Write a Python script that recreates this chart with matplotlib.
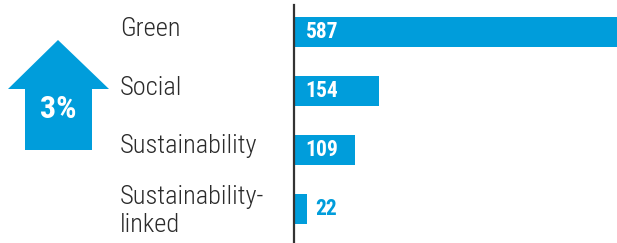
"""Labelled bond issuance by type, horizontal bar chart."""

import matplotlib

matplotlib.use("Agg")
import matplotlib.pyplot as plt
from matplotlib import font_manager
from matplotlib.patches import Polygon

CATEGORIES = ["Green", "Social", "Sustainability", "Sustainability-\nlinked"]
COUNTS = [587, 154, 109, 22]
CHANGE_LABEL = "3%"

BLUE = "#009ddb"
TEXT_DARK = "#2b2b2b"

W, H = 617, 243


def pick_family(candidates: list[str]) -> str:
    """Return the first installed family from the candidates."""
    installed = {f.name for f in font_manager.fontManager.ttflist}
    for name in candidates:
        if name in installed:
            return name
    return "DejaVu Sans"


NARROW = pick_family(
    ["Roboto Condensed", "Archivo Narrow", "PT Sans Narrow",
     "Liberation Sans Narrow", "Roboto"]
)


def main() -> None:
    fig = plt.figure(figsize=(W / 100, H / 100), dpi=100)

    # bar axes: left spine is the dark vertical rule
    ax = fig.add_axes([294 / W, 0, (W - 294) / W, (H - 5) / H])
    positions = list(range(len(COUNTS)))
    ax.barh(positions, COUNTS, height=0.51, color=BLUE, left=1)
    ax.set_xlim(0, max(COUNTS))
    ax.set_ylim(3.582, -0.461)
    for side in ["top", "right", "bottom"]:
        ax.spines[side].set_visible(False)
    ax.spines["left"].set_color("#333333")
    ax.spines["left"].set_linewidth(1.6)
    ax.set_xticks([])
    ax.set_yticks([])
    ax.patch.set_alpha(0)

    label_x = (120 - 294) / (W - 294)
    for pos, name, value in zip(positions, CATEGORIES, COUNTS):
        y = pos + (0.40 if "\n" in name else 0.06)
        ax.text(label_x, y, name, transform=ax.get_yaxis_transform(),
                family=NARROW, fontsize=19, fontweight="light", color=TEXT_DARK,
                va="baseline", ha="left", linespacing=1.2, clip_on=False)
        inside = value > 60
        ax.annotate(str(value), xy=(0 if inside else value, pos),
                    xytext=(8.5 if inside else 6.5, 0), textcoords="offset points",
                    family=NARROW, fontsize=15.5, fontweight="bold",
                    color="white" if inside else BLUE, va="center", ha="left")

    # big up-arrow with the change figure
    arrow_ax = fig.add_axes([0, 0, 1, 1])
    arrow_ax.set_xlim(0, W)
    arrow_ax.set_ylim(H, 0)
    arrow_ax.axis("off")
    arrow_ax.patch.set_alpha(0)
    arrow = Polygon(
        [(58, 40), (109, 89), (92, 89), (92, 150), (25, 150), (25, 89), (8, 89)],
        closed=True, color=BLUE, lw=0,
    )
    arrow_ax.add_patch(arrow)
    arrow_ax.text(58.5, 109, CHANGE_LABEL, family=NARROW, fontsize=23,
                  fontweight="bold", color="white", ha="center", va="center")

    fig.savefig("out.png", dpi=100)


if __name__ == "__main__":
    main()
